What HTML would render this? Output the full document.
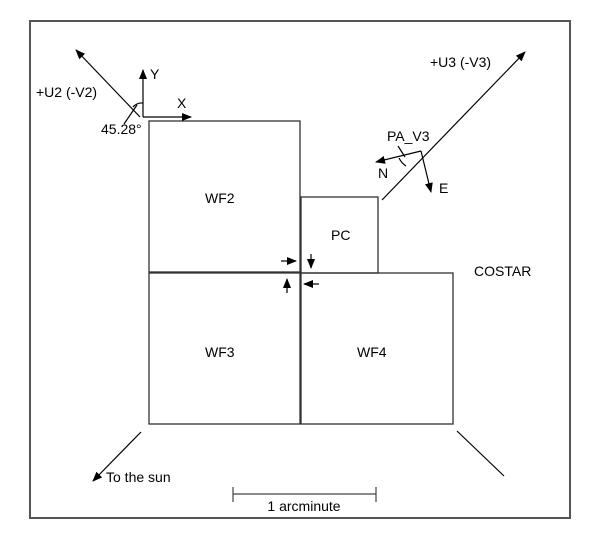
<!DOCTYPE html>
<html><head><style>body{margin:0;background:#fff}svg{display:block}text{font-family:"Liberation Sans",sans-serif;font-size:14px;fill:#000}</style></head><body>
<svg width="600" height="542" viewBox="0 0 600 542">
<defs><marker id="a" markerWidth="10" markerHeight="8" refX="9" refY="4" orient="auto" markerUnits="userSpaceOnUse"><path d="M0,0L10,4L0,8z" fill="#000"/></marker></defs>
<rect x="30" y="21" width="540" height="497" fill="none" stroke="#555" stroke-width="2"/>
<g fill="none" stroke="#333" stroke-width="1.3">
<rect x="149" y="121" width="151" height="151"/>
<rect x="149" y="273" width="151" height="151"/>
<rect x="301" y="273" width="152" height="151"/>
<rect x="301" y="197" width="77" height="76"/>
</g>
<g stroke="#000" stroke-width="1.2" fill="none">
<line x1="143" y1="117" x2="143" y2="70" marker-end="url(#a)"/>
<line x1="143" y1="117" x2="191" y2="117" marker-end="url(#a)"/>
<line x1="140" y1="117" x2="76" y2="50" marker-end="url(#a)"/>
<path d="M133,107 A12,12 0 0 1 143,103"/>
<line x1="137" y1="105" x2="124" y2="124"/>
<line x1="382" y1="200" x2="525" y2="52" marker-end="url(#a)"/>
<line x1="421" y1="151" x2="376" y2="162" marker-end="url(#a)"/>
<line x1="421" y1="151" x2="431" y2="192" marker-end="url(#a)"/>
<path d="M399,158 A20,20 0 0 0 406,166"/>
<line x1="398" y1="146" x2="405" y2="157"/>
<line x1="281" y1="261" x2="296" y2="261" marker-end="url(#a)"/>
<line x1="311" y1="254" x2="311" y2="268" marker-end="url(#a)"/>
<line x1="287" y1="293" x2="287" y2="279" marker-end="url(#a)"/>
<line x1="319" y1="284" x2="304" y2="284" marker-end="url(#a)"/>
<line x1="141" y1="432" x2="93" y2="481" marker-end="url(#a)"/>
<line x1="457" y1="431" x2="504" y2="476"/>
<line x1="233" y1="494" x2="376" y2="494" stroke="#444"/>
<line x1="233" y1="487" x2="233" y2="502" stroke="#444"/>
<line x1="376" y1="487" x2="376" y2="502" stroke="#444"/>
</g>
<text x="36" y="97">+U2 (-V2)</text>
<text x="150" y="79">Y</text>
<text x="177" y="108">X</text>
<text x="101" y="134">45.28°</text>
<text x="430" y="67">+U3 (-V3)</text>
<text x="387" y="141">PA_V3</text>
<text x="378" y="178">N</text>
<text x="439" y="193">E</text>
<text x="205" y="203">WF2</text>
<text x="331" y="240">PC</text>
<text x="474" y="276">COSTAR</text>
<text x="205" y="357">WF3</text>
<text x="357" y="357">WF4</text>
<text x="106" y="482">To the sun</text>
<text x="304" y="511" text-anchor="middle">1 arcminute</text>
</svg>
</body></html>
